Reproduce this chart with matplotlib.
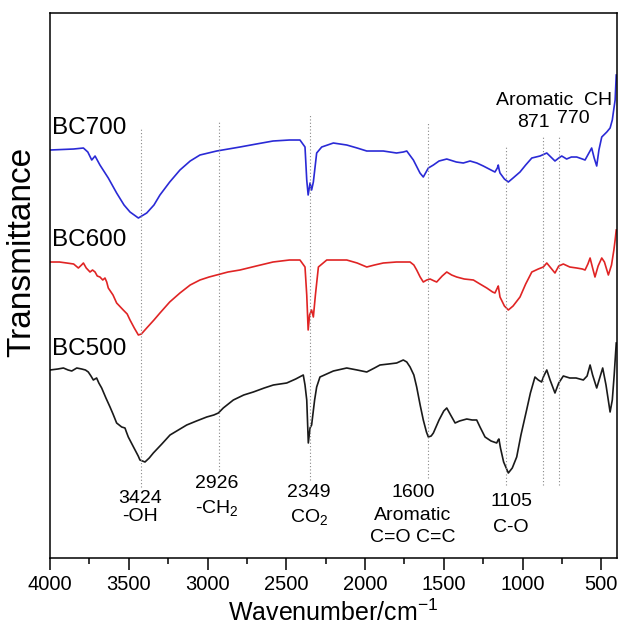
import numpy as np
import matplotlib
matplotlib.use('Agg')
import matplotlib.pyplot as plt
from matplotlib.ticker import MultipleLocator

plt.rcParams['font.family'] = ['Liberation Sans', 'DejaVu Sans']
plt.rcParams['mathtext.default'] = 'regular'

# BC700 (blue)
wn_700 = [4000, 3850, 3788, 3760, 3735, 3714, 3683, 3630, 3577, 3530, 3492, 3439, 3386, 3340, 3302,
          3240, 3175, 3110, 3048, 2942, 2794, 2690, 2584, 2480, 2413, 2381, 2370, 2361, 2349, 2339,
          2328, 2307, 2275, 2201, 2116, 2050, 1989, 1884, 1800, 1757, 1735, 1693, 1651, 1630, 1598,
          1566, 1530, 1481, 1420, 1376, 1333, 1290, 1249, 1200, 1175, 1160, 1154, 1148, 1143, 1115,
          1090, 1060, 1016, 980, 941, 889, 846, 820, 794, 770, 751, 720, 690, 656, 620,
          603, 575, 561, 545, 529, 515, 497, 465, 444, 430, 423, 412, 405]
t_700 = [405, 406, 407, 403, 395, 399, 390, 377, 362, 350, 343, 337, 342, 350, 360,
         373, 385, 394, 400, 404, 408, 411, 414, 415, 415, 408, 375, 360, 372, 365,
         373, 402, 408, 412, 410, 407, 404, 404, 402, 403, 404, 395, 382, 378, 387,
         390, 394, 396, 393, 392, 394, 392, 389, 385, 383, 387, 390, 385, 382, 376,
         373, 377, 383, 390, 397, 399, 402, 398, 394, 397, 399, 396, 398, 398, 396,
         395, 403, 407, 397, 389, 405, 418, 423, 427, 435, 443, 455, 480]

# BC600 (red)
wn_600 = [4000, 3940, 3894, 3850, 3820, 3800, 3788, 3770, 3746, 3730, 3714, 3700, 3683, 3665, 3651,
          3640, 3630, 3600, 3577, 3535, 3510, 3492, 3465, 3439, 3420, 3386, 3340, 3302, 3240, 3175,
          3110, 3048, 2990, 2942, 2870, 2794, 2690, 2584, 2480, 2413, 2381, 2370, 2361, 2352, 2339,
          2328, 2315, 2296, 2243, 2116, 2050, 1989, 1940, 1884, 1800, 1714, 1690, 1672, 1650, 1630,
          1608, 1587, 1560, 1545, 1510, 1481, 1450, 1418, 1370, 1312, 1270, 1227, 1190, 1175, 1160,
          1154, 1148, 1143, 1115, 1090, 1060, 1016, 980, 941, 900, 868, 846, 820, 794, 770,
          741, 700, 656, 620, 603, 585, 571, 555, 540, 520, 497, 480, 455, 435, 420,
          412, 405]
t_600 = [293, 293, 292, 291, 287, 290, 292, 287, 283, 285, 283, 279, 278, 275, 277,
         273, 267, 260, 252, 245, 241, 235, 227, 220, 221, 227, 235, 242, 253, 262,
         270, 275, 278, 280, 283, 285, 289, 293, 295, 295, 288, 260, 225, 240, 245,
         238, 260, 288, 295, 295, 292, 288, 290, 292, 293, 293, 290, 285, 278, 273,
         275, 276, 274, 273, 279, 283, 280, 278, 276, 275, 271, 267, 263, 262, 267,
         269, 263, 258, 249, 245, 249, 258, 271, 283, 286, 288, 292, 287, 282, 289,
         291, 288, 287, 286, 285, 291, 297, 287, 278, 289, 297, 293, 280, 290, 305,
         315, 325]

# BC500 (black)
wn_500 = [4000, 3950, 3915, 3885, 3862, 3830, 3799, 3775, 3757, 3740, 3725, 3704, 3690, 3672, 3645,
          3619, 3600, 3577, 3545, 3524, 3515, 3503, 3470, 3440, 3429, 3397, 3370, 3344, 3290, 3238,
          3185, 3132, 3070, 3005, 2960, 2931, 2900, 2836, 2770, 2709, 2640, 2582, 2497, 2440, 2392,
          2381, 2370, 2360, 2349, 2339, 2320, 2307, 2286, 2201, 2116, 2050, 1989, 1940, 1905, 1850,
          1799, 1757, 1735, 1714, 1690, 1672, 1650, 1630, 1610, 1598, 1580, 1566, 1530, 1500, 1481,
          1460, 1428, 1400, 1354, 1320, 1291, 1270, 1238, 1200, 1164, 1155, 1150, 1140, 1120, 1090,
          1065, 1037, 1010, 974, 950, 921, 900, 879, 865, 846, 825, 794, 770, 741, 700,
          660, 614, 590, 571, 555, 529, 510, 491, 470, 444, 430, 418, 405]
t_500 = [185, 186, 187, 185, 184, 187, 186, 185, 183, 179, 175, 177, 172, 167, 157,
         148, 141, 132, 128, 127, 123, 118, 108, 99, 95, 93, 97, 102, 111, 120,
         125, 130, 134, 138, 140, 142, 147, 155, 160, 163, 167, 170, 172, 176, 180,
         170, 155, 112, 127, 130, 155, 168, 178, 184, 187, 185, 183, 187, 190, 191,
         192, 195, 193, 188, 180, 168, 150, 135, 123, 118, 119, 122, 135, 144, 147,
         141, 132, 134, 136, 135, 135, 128, 118, 114, 112, 115, 116, 107, 93, 82,
         87, 98, 120, 145, 162, 178, 175, 173, 179, 185, 175, 162, 172, 179, 177,
         177, 175, 179, 190, 180, 167, 177, 187, 170, 143, 155, 180, 212]

# peak markers: position, vertical extent
peak_pos = [3424, 2926, 2349, 1600, 1105, 871, 770]
peak_top = [428, 433, 440, 432, 410, 420, 420]
peak_bottom = [68, 85, 75, 77, 70, 70, 70]

fig = plt.figure(figsize=(6.22, 6.29), dpi=100)
ax = fig.add_axes([0.0804, 0.1129, 0.9116, 0.8664])

ax.plot(wn_700, t_700, color='#2a2ad6', lw=1.2)
ax.plot(wn_600, t_600, color='#e02424', lw=1.2)
ax.plot(wn_500, t_500, color='#1a1a1a', lw=1.2)

for p, top, bot in zip(peak_pos, peak_top, peak_bottom):
    ax.plot([p, p], [bot, top], color='#888888', lw=0.8, ls=(0, (1, 2)))

ax.text(3987, 427, 'BC700', fontsize=17.5, ha='left', va='center')
ax.text(3987, 315, 'BC600', fontsize=17.5, ha='left', va='center')
ax.text(3987, 206, 'BC500', fontsize=17.5, ha='left', va='center')

fs = 14
ax.text(3429, 56, '3424', fontsize=fs, ha='center', va='center')
ax.text(3429, 38, '-OH', fontsize=fs, ha='center', va='center')
ax.text(2942, 71, '2926', fontsize=fs, ha='center', va='center')
ax.text(2942, 47, '-CH$_2$', fontsize=fs, ha='center', va='center')
ax.text(2356, 62, '2349', fontsize=fs, ha='center', va='center')
ax.text(2356, 38, 'CO$_2$', fontsize=fs, ha='center', va='center')
ax.text(1695, 62, '1600', fontsize=fs, ha='center', va='center')
ax.text(1695, 39, 'Aromatic', fontsize=fs, ha='center', va='center')
ax.text(1695, 17, 'C=O C=C', fontsize=fs, ha='center', va='center')
ax.text(1073, 53, '1105', fontsize=fs, ha='center', va='center')
ax.text(1073, 27, 'C-O', fontsize=fs, ha='center', va='center')
ax.text(800, 455, 'Aromatic  CH', fontsize=fs, ha='center', va='center')
ax.text(933, 433, '871', fontsize=fs, ha='center', va='center')
ax.text(679, 437, '770', fontsize=fs, ha='center', va='center')

ax.set_xlim(4000, 400)
ax.set_ylim(-3, 542)
ax.xaxis.set_major_locator(MultipleLocator(500))
ax.xaxis.set_minor_locator(MultipleLocator(250))
ax.tick_params(axis='x', which='major', direction='out', length=8.3, width=1.1,
               labelsize=14.5, pad=4)
ax.tick_params(axis='x', which='minor', direction='out', length=4.3, width=1.1)
ax.tick_params(axis='y', left=False, labelleft=False)
for s in ax.spines.values():
    s.set_linewidth(1.1)

ax.set_xlabel('Wavenumber/cm$^{-1}$', fontsize=18, labelpad=4)
fig.text(0.035, 1 - 252 / 629, 'Transmittance', fontsize=24, rotation=90,
         ha='center', va='center')

fig.savefig('out.png', dpi=100)
